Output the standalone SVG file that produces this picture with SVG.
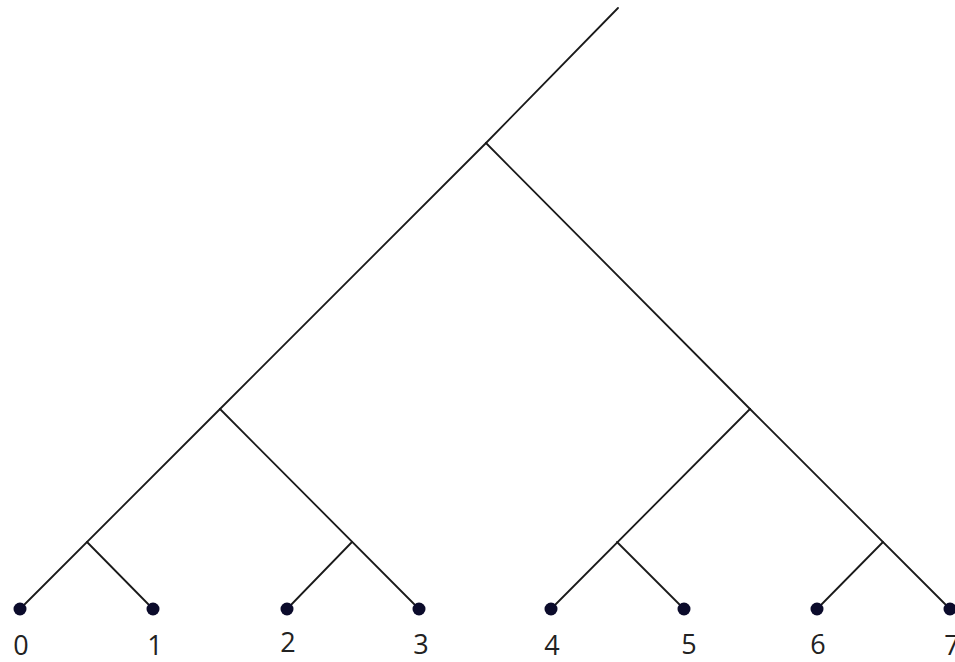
<svg xmlns="http://www.w3.org/2000/svg" width="955" height="662" viewBox="0 0 955 662">
  <style>
    .edge { stroke: #1a1a1a; stroke-width: 1.8; fill: none; stroke-linecap: round; }
    .leaf { fill: #0b0b2b; }
    .lbl { font-family: "Open Sans", "Liberation Sans", sans-serif; font-size: 27px; fill: #222; text-anchor: middle; }
  </style>
  <rect width="955" height="662" fill="#ffffff"/>
  <g id="connectors">
    <line class="edge" x1="618" y1="8" x2="486" y2="143"/>
    <line class="edge" x1="486" y1="143" x2="220" y2="409"/>
    <line class="edge" x1="486" y1="143" x2="750" y2="409"/>
    <line class="edge" x1="220" y1="409" x2="20" y2="609"/>
    <line class="edge" x1="220" y1="409" x2="419" y2="609"/>
    <line class="edge" x1="750" y1="409" x2="551" y2="609"/>
    <line class="edge" x1="750" y1="409" x2="950" y2="609"/>
    <line class="edge" x1="87" y1="542" x2="153" y2="609"/>
    <line class="edge" x1="352" y1="542" x2="287" y2="609"/>
    <line class="edge" x1="617" y1="542" x2="684" y2="609"/>
    <line class="edge" x1="883" y1="542" x2="817" y2="609"/>
  </g>
  <g id="leaf0"><circle class="leaf" cx="20" cy="609" r="6.5"/><text class="lbl" x="21" y="655">0</text></g>
  <g id="leaf1"><circle class="leaf" cx="153" cy="609" r="6.5"/><text class="lbl" x="155" y="655">1</text></g>
  <g id="leaf2"><circle class="leaf" cx="287" cy="609" r="6.5"/><text class="lbl" x="288" y="652">2</text></g>
  <g id="leaf3"><circle class="leaf" cx="419" cy="609" r="6.5"/><text class="lbl" x="421" y="654">3</text></g>
  <g id="leaf4"><circle class="leaf" cx="551" cy="609" r="6.5"/><text class="lbl" x="552" y="655">4</text></g>
  <g id="leaf5"><circle class="leaf" cx="684" cy="609" r="6.5"/><text class="lbl" x="689" y="654">5</text></g>
  <g id="leaf6"><circle class="leaf" cx="817" cy="609" r="6.5"/><text class="lbl" x="818" y="654">6</text></g>
  <g id="leaf7"><circle class="leaf" cx="950" cy="609" r="6.5"/><text class="lbl" x="952" y="655">7</text></g>
</svg>
